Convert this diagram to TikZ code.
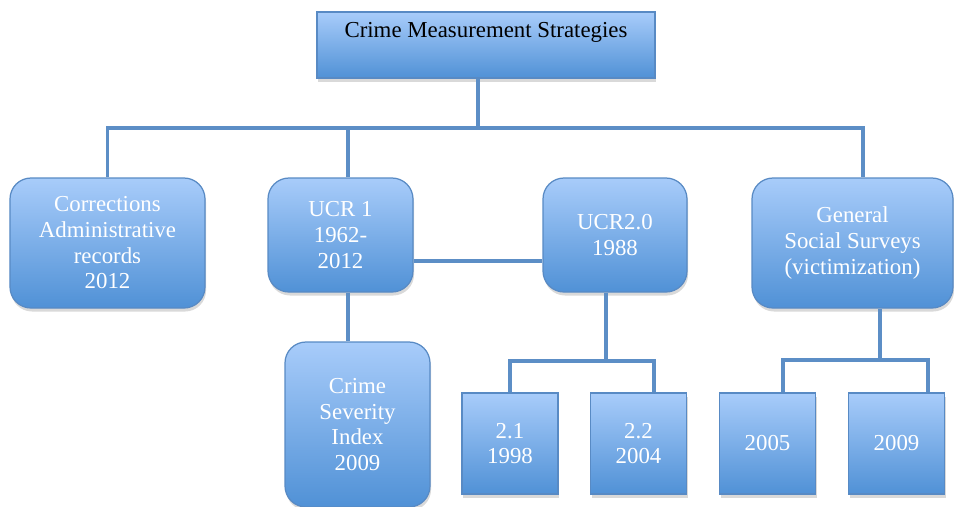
\documentclass[tikz,border=0pt]{standalone}
\usepackage{fontspec}
\setmainfont{Liberation Serif}
\usepackage{tikz}
\usetikzlibrary{shadows, calc}
\definecolor{boxtop}{RGB}{168,204,250}
\definecolor{boxbottom}{RGB}{80,145,214}
\definecolor{boxline}{RGB}{88,138,196}
\definecolor{linkblue}{RGB}{92,142,198}

\begin{document}
\begin{tikzpicture}[
  box/.style={rectangle, draw=boxline, line width=0.7pt, top color=boxtop, bottom color=boxbottom,
              drop shadow={shadow xshift=0.6pt, shadow yshift=-2pt, opacity=0.3},
              font=\fontsize{13}{14.6}\selectfont, text=white, align=center, inner sep=2pt},
  rbox/.style={box, rounded corners=0.42cm},
  titlebox/.style={box, text=black, minimum width=6.76cm, minimum height=1.32cm},
  link/.style={draw=linkblue, line width=2pt},
]
  \useasboundingbox (0,0) rectangle (19.08,-10.12);
  \clip (0,0) rectangle (19.08,-10.12);

  % Top block
  \node[titlebox] (title) at (9.72,-0.90) {Crime Measurement Strategies\\[3pt]\mbox{}};

  % Second row
  \node[rbox, minimum width=3.9cm, minimum height=2.6cm] (corr) at (2.15,-4.86)
    {Corrections\\Administrative\\records\\2012};
  \node[rbox, minimum width=2.9cm, minimum height=2.28cm] (ucr1) at (6.81,-4.70)
    {UCR 1\\1962-\\2012};
  \node[rbox, minimum width=2.88cm, minimum height=2.28cm] (ucr2) at (12.30,-4.70)
    {UCR2.0\\1988};
  \node[rbox, minimum width=4.02cm, minimum height=2.6cm] (gss) at (17.05,-4.86)
    {General\\Social Surveys\\(victimization)};

  % Third row
  \node[rbox, minimum width=2.9cm, minimum height=3.3cm] (csi) at (7.15,-8.49)
    {Crime\\Severity\\Index\\2009};
  \node[box, minimum width=1.92cm, minimum height=2.02cm] (v21) at (10.20,-8.87) {2.1\\1998};
  \node[box, minimum width=1.92cm, minimum height=2.02cm] (v22) at (12.77,-8.87) {2.2\\2004};
  \node[box, minimum width=1.92cm, minimum height=2.02cm] (y2005) at (15.35,-8.87) {2005};
  \node[box, minimum width=1.92cm, minimum height=2.02cm] (y2009) at (17.93,-8.87) {2009};

  % Connectors
  \coordinate (bar) at (9.56,-2.56);
  \coordinate (fork2) at (12.12,-7.22);
  \coordinate (fork3) at (17.60,-7.20);

  \draw[link] ([xshift=-0.16cm]title.south) -- ([xshift=-0.16cm]title.south |- bar);
  \draw[link] (corr.north) |- ([xshift=0.21cm]gss.north |- bar) -- ([xshift=0.21cm]gss.north);
  \draw[link] ([xshift=0.15cm]ucr1.north) -- ([xshift=0.15cm]ucr1.north |- bar);
  \draw[link] ([yshift=-0.52cm]ucr1.east) -- ([yshift=-0.52cm]ucr2.west);
  \draw[link] ([xshift=0.15cm]ucr1.south) -- ([xshift=0.15cm]ucr1.south |- csi.north);

  \draw[link] ([xshift=-0.18cm]ucr2.south) -- ([xshift=-0.18cm]ucr2.south |- fork2);
  \draw[link] (v21.north) |- ([xshift=0.31cm]v22.north |- fork2) -- ([xshift=0.31cm]v22.north);

  \draw[link] ([xshift=0.55cm]gss.south) -- ([xshift=0.55cm]gss.south |- fork3);
  \draw[link] ([xshift=0.31cm]y2005.north) |- ([xshift=0.63cm]y2009.north |- fork3) -- ([xshift=0.63cm]y2009.north);
\end{tikzpicture}
\end{document}
